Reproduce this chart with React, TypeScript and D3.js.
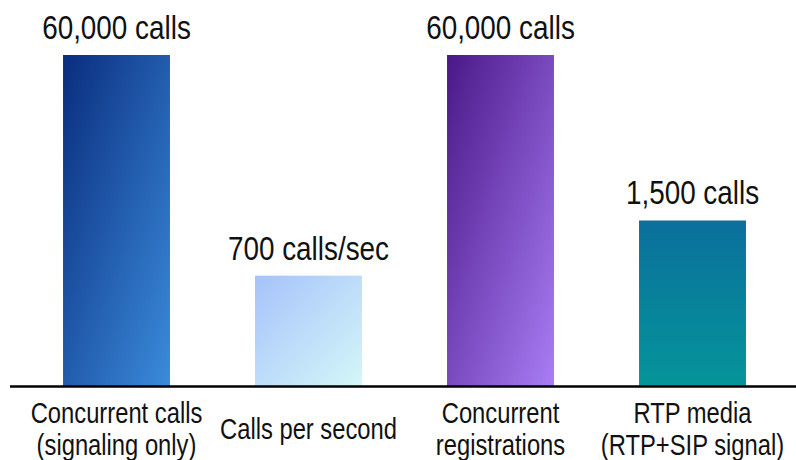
import React from 'react';
import * as d3 from 'd3';

// chart data
const categories = ['Concurrent calls|(signaling only)', 'Calls per second', 'Concurrent|registrations', 'RTP media|(RTP+SIP signal)'];
const valueLabels = ['60,000 calls', '700 calls/sec', '60,000 calls', '1,500 calls'];
// bar heights on the slide are relative, not proportional to the numbers
const barHeights = [6, 2, 6, 3];
const gradStart = ['#0a2d7f', '#a6c2fa', '#4a1888', '#0b6f9c'];
const gradEnd = ['#3b8bdb', '#d3f7f8', '#a97df5', '#05959a'];
const gradVertical = [false, false, false, true];

const W = 796, H = 460;
const baseY = 386;
const topY = 55;
const squeeze = 0.82; // no narrow font installed, so condense by hand

export default function App() {
  const x = d3.scaleBand<number>()
    .domain(d3.range(categories.length))
    .range([20.5, 788.5])
    .paddingInner(0.443)
    .paddingOuter(0.2215);

  const y = d3.scaleLinear()
    .domain([0, d3.max(barHeights) as number])
    .range([baseY, topY]);

  const font = '"Liberation Sans", Arial, sans-serif';
  const mid = (i: number) => (x(i) as number) + x.bandwidth() / 2;

  return (
    <svg width={W} height={H} style={{ position: 'absolute', left: 0, top: 0, background: '#fff' }}>
      <defs>
        {barHeights.map((_, i) => (
          <linearGradient key={i} id={'g' + i} x1="0" y1="0"
            x2={gradVertical[i] ? '0' : '1'} y2="1">
            <stop offset="0%" stopColor={gradStart[i]} />
            <stop offset="100%" stopColor={gradEnd[i]} />
          </linearGradient>
        ))}
      </defs>
      {barHeights.map((v, i) => (
        <g key={i}>
          <rect x={x(i)} y={y(v)} width={x.bandwidth()} height={baseY - y(v)} fill={`url(#g${i})`} />
          <g transform={`translate(${mid(i)},0) scale(${squeeze},1)`}>
            <text x={0} y={y(v) - 16} textAnchor="middle"
              fontFamily={font} fontSize={34} fill="#111">{valueLabels[i]}</text>
          </g>
        </g>
      ))}
      <line x1={10} x2={W} y1={baseY + 0.5} y2={baseY + 0.5} stroke="#000" strokeWidth={2.5} />
      {categories.map((c, i) => {
        const lines = c.split('|');
        return (
          <g key={i} transform={`translate(${mid(i)},0) scale(${squeeze},1)`}>
            <text textAnchor="middle" fontFamily={font} fontSize={29} fill="#111">
              {lines.map((l, j) => (
                <tspan key={j} x={0} y={lines.length === 1 ? 439 : 423 + j * 32}>{l}</tspan>
              ))}
            </text>
          </g>
        );
      })}
    </svg>
  );
}
